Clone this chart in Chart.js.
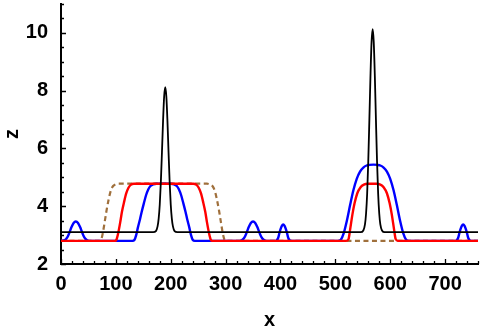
<!DOCTYPE html>
<html>
<head>
<meta charset="utf-8">
<script src="https://cdn.jsdelivr.net/npm/chart.js@4"></script>
<style>
  html, body { margin: 0; padding: 0; background: #fff; }
  #plot { display: block; }
</style>
</head>
<body>
<canvas id="plot" width="484" height="332"></canvas>
<script>
// values
const blackX = [0, 168, 173, 176, 178, 180, 182, 184, 186, 188, 190, 192, 194, 196, 198, 200, 202, 204, 207, 212,
  546, 551, 554, 556, 558, 560, 562, 564, 566, 568, 570, 572, 574, 576, 578, 580, 582, 585, 590, 760];
const blackZ = [3.1, 3.1, 3.14, 3.30, 3.57, 4.06, 4.85, 5.87, 6.95, 7.80, 8.12, 7.80, 6.95, 5.87, 4.85, 4.06, 3.57, 3.30, 3.14, 3.1,
  3.1, 3.16, 3.37, 3.75, 4.44, 5.55, 6.98, 8.49, 9.68, 10.13, 9.68, 8.49, 6.98, 5.55, 4.44, 3.75, 3.37, 3.16, 3.1, 3.1];

const redX = [0, 98, 101, 104, 108, 111, 115, 119, 123, 127, 133, 241, 247, 251, 255, 259, 263, 266, 270, 273, 276,
  520, 524, 527, 531, 535, 540, 546, 552, 559, 575, 582, 588, 594, 599, 603, 607, 610, 614, 760];
const redZ = [2.8, 2.8, 2.84, 3.05, 3.45, 3.8, 4.15, 4.45, 4.64, 4.74, 4.78, 4.78, 4.74, 4.64, 4.45, 4.15, 3.8, 3.45, 3.05, 2.84, 2.8,
  2.8, 2.86, 3.2, 3.7, 4.1, 4.45, 4.66, 4.75, 4.78, 4.78, 4.75, 4.66, 4.45, 4.1, 3.7, 3.2, 2.86, 2.8, 2.8];

const blueX = [0, 7, 10, 13, 16, 19, 23, 27, 31, 35, 38, 41, 44, 47, 51,
  130, 134, 137, 140, 144, 147, 151, 155, 159, 163, 168, 174, 200, 206, 211, 215, 219, 223, 227, 230, 234, 237, 240, 244,
  326, 330, 333, 336, 339, 342, 346, 350, 354, 358, 361, 364, 367, 370, 374,
  391, 393, 395, 396.5, 398, 400, 402.5, 405, 407.5, 410, 412, 413.5, 415, 417, 419,
  505, 510, 515, 521, 527, 533, 539, 545, 551, 557, 562, 569.5, 577, 582, 588, 594, 600, 606, 612, 618, 624, 629, 634,
  719, 721, 723, 724.5, 726, 728, 730.5, 733, 735.5, 738, 740, 741.5, 743, 745, 747, 760];
const blueZ = [2.8, 2.83, 2.88, 2.98, 3.12, 3.27, 3.42, 3.47, 3.42, 3.27, 3.12, 2.98, 2.88, 2.83, 2.8,
  2.8, 2.84, 3.0, 3.25, 3.55, 3.8, 4.1, 4.38, 4.58, 4.7, 4.76, 4.78, 4.78, 4.76, 4.7, 4.58, 4.38, 4.1, 3.8, 3.55, 3.25, 3.0, 2.84, 2.8,
  2.8, 2.83, 2.88, 2.98, 3.12, 3.27, 3.42, 3.47, 3.42, 3.27, 3.12, 2.98, 2.88, 2.83, 2.8,
  2.8, 2.82, 2.87, 2.95, 3.07, 3.20, 3.32, 3.37, 3.32, 3.20, 3.07, 2.95, 2.87, 2.82, 2.8,
  2.8, 2.84, 3.05, 3.5, 4.05, 4.56, 4.95, 5.2, 5.34, 5.41, 5.43, 5.44, 5.43, 5.41, 5.34, 5.2, 4.95, 4.56, 4.05, 3.5, 3.05, 2.84, 2.8,
  2.8, 2.82, 2.87, 2.95, 3.07, 3.20, 3.32, 3.37, 3.32, 3.20, 3.07, 2.95, 2.87, 2.82, 2.8, 2.8];

const brownX = [0, 70, 73, 76, 80, 83, 87, 91, 95, 99, 105, 266, 272, 276, 280, 284, 288, 291, 295, 298, 301, 760];
const brownZ = [2.8, 2.8, 2.84, 3.05, 3.5, 3.85, 4.25, 4.55, 4.7, 4.75, 4.78, 4.78, 4.75, 4.7, 4.55, 4.25, 3.85, 3.5, 3.05, 2.84, 2.8, 2.8];

const xTicks = [0, 100, 200, 300, 400, 500, 600, 700];
const zTicks = [2, 4, 6, 8, 10];

function pts(xs, zs) {
  return xs.map((x, i) => ({ x: x, y: zs[i] }));
}

const font = { family: "'Liberation Sans', Arial, sans-serif", size: 20, weight: 'bold' };

// Mathematica style ticks that point into the plot
const inwardTicks = {
  id: 'inwardTicks',
  afterDraw(chart) {
    const { ctx, chartArea, scales } = chart;
    ctx.save();
    ctx.strokeStyle = '#000';
    ctx.lineWidth = 1.3;
    ctx.beginPath();
    for (let v = scales.x.min; v <= scales.x.max; v += 20) {
      const px = Math.round(scales.x.getPixelForValue(v)) + 0.5;
      const len = v % 100 === 0 ? 5 : 3;
      ctx.moveTo(px, chartArea.bottom);
      ctx.lineTo(px, chartArea.bottom - len);
    }
    for (let v = scales.y.min; v <= scales.y.max + 0.01; v += 0.5) {
      const py = Math.round(scales.y.getPixelForValue(v)) + 0.5;
      const len = v % 2 === 0 ? 5 : 3;
      ctx.moveTo(chartArea.left, py);
      ctx.lineTo(chartArea.left + len, py);
    }
    ctx.stroke();
    ctx.restore();
  }
};

const line = (data, color, width) => ({
  data: data,
  borderColor: color,
  borderWidth: width,
  pointRadius: 0,
  fill: false,
  cubicInterpolationMode: 'monotone'
});

const brown = line(pts(brownX, brownZ), '#a0703c', 2.2);
brown.borderDash = [5, 3.5];

new Chart(document.getElementById('plot'), {
  type: 'line',
  data: {
    datasets: [
      line(pts(blackX, blackZ), '#000000', 1.8),
      line(pts(redX, redZ), '#ff0000', 2.4),
      line(pts(blueX, blueZ), '#0000ff', 2.4),
      brown
    ]
  },
  options: {
    responsive: false,
    animation: false,
    events: [],
    layout: { padding: { top: 4, right: 6, left: 0, bottom: 0 } },
    plugins: { legend: { display: false }, tooltip: { enabled: false } },
    scales: {
      x: {
        type: 'linear',
        min: 0,
        max: 760,
        afterFit: (s) => { s.height = 68; s.paddingLeft = 0; s.paddingRight = 0; },
        afterBuildTicks: (s) => { s.ticks = xTicks.map(v => ({ value: v })); },
        grid: { display: false },
        border: { display: true, color: '#000', width: 2 },
        ticks: { color: '#000', font: font, padding: 0, maxRotation: 0 },
        title: { display: true, text: 'x', color: '#000', font: font, padding: { top: 0, bottom: 0 } }
      },
      y: {
        min: 2,
        max: 11,
        afterFit: (s) => { s.width = 61; s.paddingTop = 0; s.paddingBottom = 0; },
        afterBuildTicks: (s) => { s.ticks = zTicks.map(v => ({ value: v })); },
        grid: { display: false },
        border: { display: true, color: '#000', width: 2 },
        ticks: { color: '#000', font: font, padding: 5 },
        title: { display: true, text: 'z', color: '#000', font: font, padding: { top: 0, bottom: 0 } }
      }
    }
  },
  plugins: [inwardTicks]
});
</script>
</body>
</html>
